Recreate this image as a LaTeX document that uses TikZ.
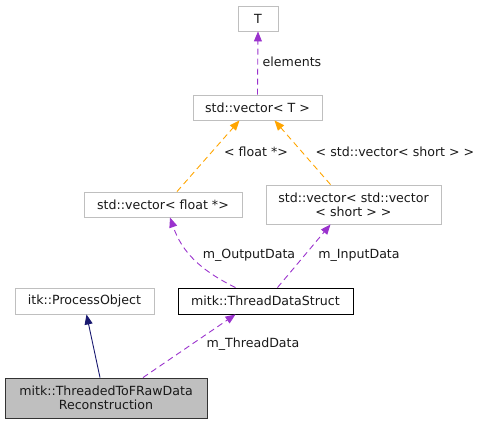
\documentclass[tikz,border=0pt]{standalone}
\usepackage{fontspec}
\setmainfont{DejaVu Sans}
\usepackage{tikz}
\usetikzlibrary{arrows.meta, calc, positioning}
\definecolor{usepurple}{HTML}{9A32CD}
\definecolor{tplorange}{HTML}{FFA500}
\definecolor{inhnavy}{HTML}{191970}
\definecolor{boxgray}{HTML}{BFBFBF}

\begin{document}
\begin{tikzpicture}[x=1pt, y=-1pt,
  every node/.style={font=\fontsize{12.6}{14}\selectfont, text=black!90},
  cls/.style={draw=boxgray, line width=0.9pt, inner sep=0pt, align=center, fill=white},
  clsdoc/.style={cls, draw=black},
  clsmain/.style={cls, draw=black!80, fill=boxgray},
  member/.style={draw=usepurple, line width=0.9pt, dash pattern=on 6pt off 4pt, -{Triangle[length=10pt,width=8pt]}},
  templ/.style={member, draw=tplorange},
  inherit/.style={draw=inhnavy, line width=0.9pt, -{Triangle[length=10pt,width=8pt]}},
  lbl/.style={inner sep=1pt}]
\useasboundingbox (0,0) rectangle (482,424);
% classes
\node[cls, minimum width=40, minimum height=25] (T) at (258,18.5) {T};
\node[cls, minimum width=129, minimum height=25] (vecT) at (257.5,107.5) {std::vector< T >};
\node[cls, minimum width=158, minimum height=25] (vecF) at (163,204.5) {std::vector< float *>};
\node[cls, minimum width=175, minimum height=39] (vecV) at (353.5,204.5) {std::vector< std::vector\\< short > >};
\node[cls, minimum width=139, minimum height=26] (proc) at (84.5,301) {itk::ProcessObject};
\node[clsdoc, minimum width=175, minimum height=26] (tds) at (265.5,301) {mitk::ThreadDataStruct};
\node[clsmain, minimum width=202, minimum height=40] (main) at (106,398) {mitk::ThreadedToFRawData\\Reconstruction};
% connectors
\draw[member] (vecT.north) -- (T.south);
\draw[templ] ([xshift=14]vecF.north) -- ([xshift=-18]vecT.south);
\draw[templ] ([xshift=-23]vecV.north) -- ([xshift=17]vecT.south);
\draw[member] ([xshift=-30]tds.north) .. controls (200,270) and (182,252) .. ([xshift=7]vecF.south);
\draw[member] ([xshift=12]tds.north) -- ([xshift=-23]vecV.south);
\draw[member] ([xshift=37]main.north) -- ([xshift=-30]tds.south);
\draw[inherit] ([xshift=-6]main.north) -- ([xshift=2]proc.south);
% labels
\node[lbl] (lelem) at (292,62) {elements};
\node[lbl] (lfloat) at (256,152) {< float *>};
\node[lbl] (lshort) at (395,152) {< std::vector< short > >};
\node[lbl] (lout) at (249,255) {m\_OutputData};
\node[lbl] (lin) at (359,255) {m\_InputData};
\node[lbl] (lthread) at (253,344) {m\_ThreadData};
\end{tikzpicture}
\end{document}
